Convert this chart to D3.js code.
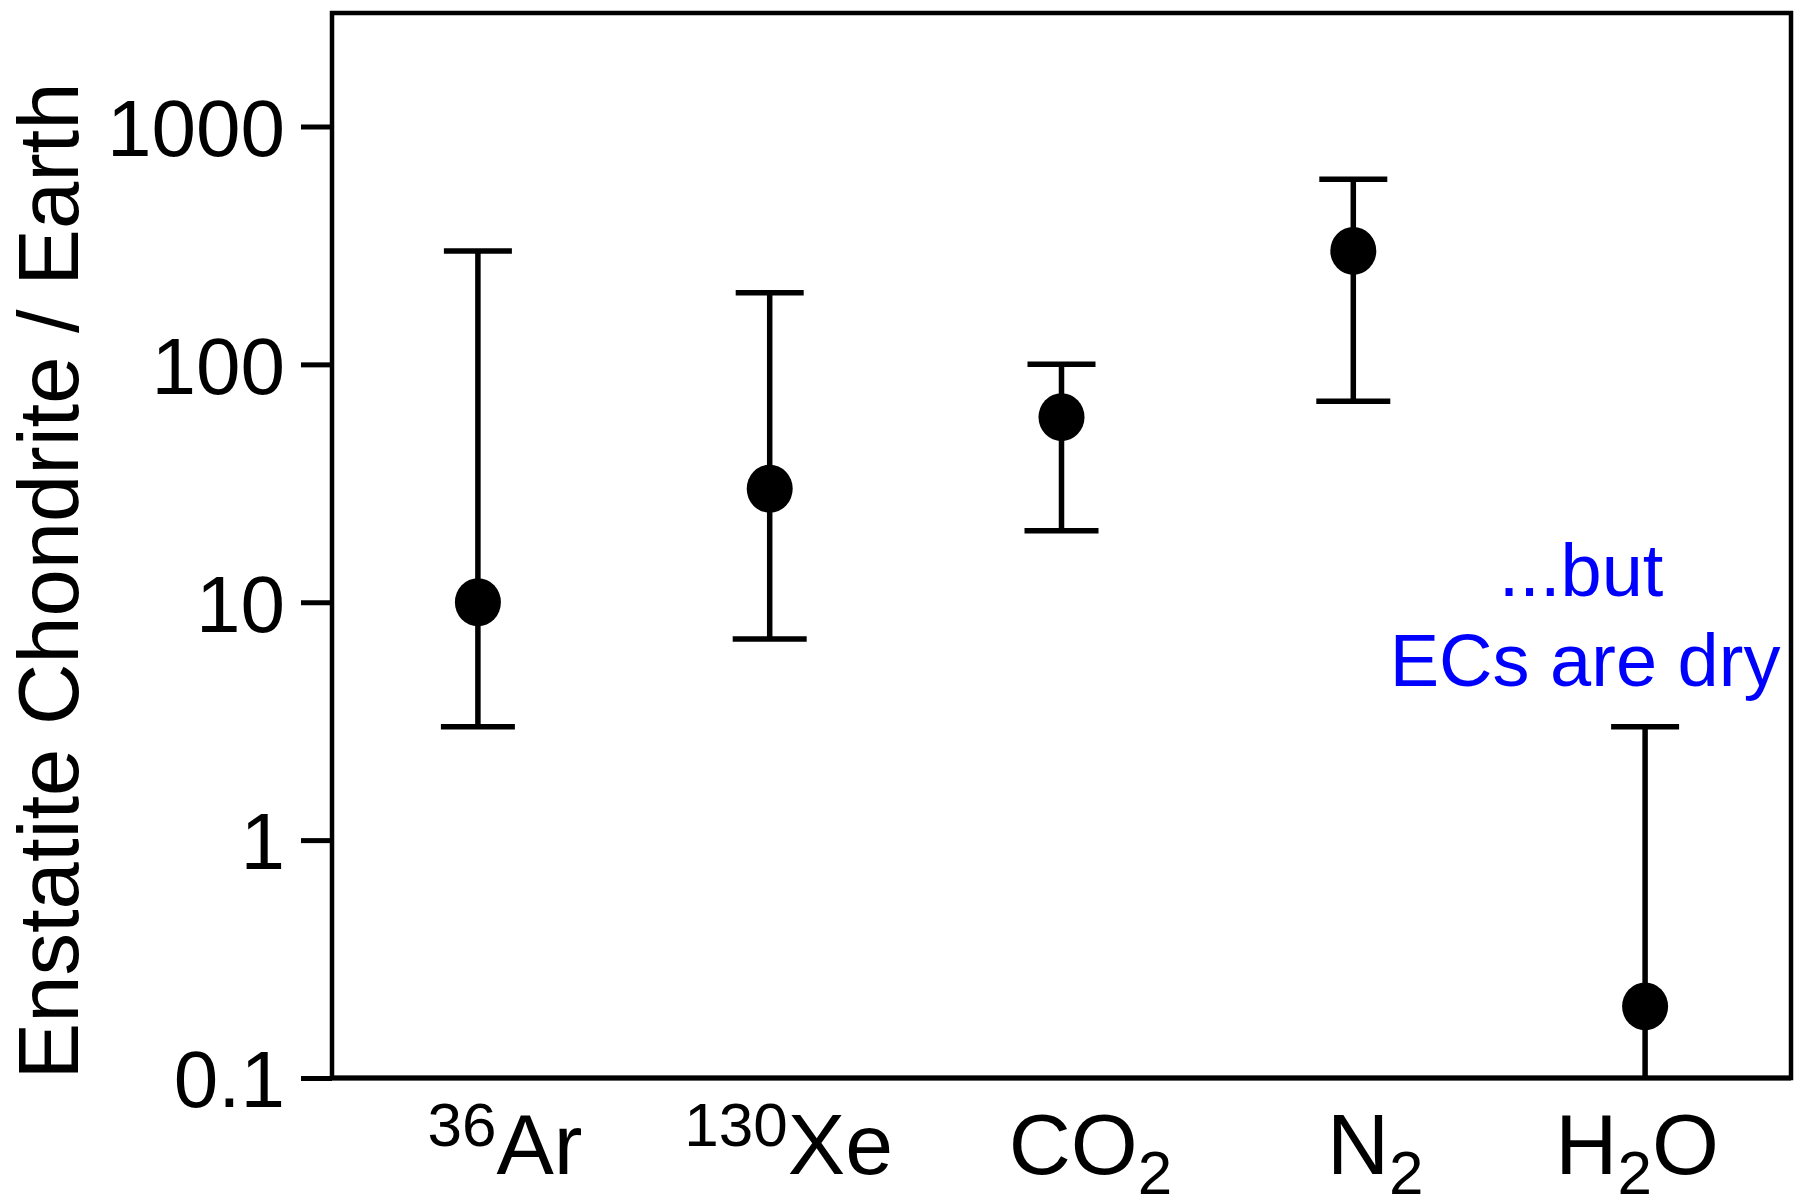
<!DOCTYPE html>
<html>
<head>
<meta charset="utf-8">
<script src="https://cdn.jsdelivr.net/npm/d3@7"></script>
<style>
  body { margin: 0; background: #fff; }
  svg { display: block; font-family: "Liberation Sans", Arial, Helvetica, sans-serif; }
</style>
</head>
<body>
<svg id="chart" width="1796" height="1201"></svg>
<script>
// Gas species along the x axis.
const CATEGORIES = ["Ar", "Xe", "CO2", "N2", "H2O"];

// LABEL_PARTS[i] is the label of category i as [text, kind] pieces.
const LABEL_PARTS = [
  [["36", "sup"], ["Ar", ""]],
  [["130", "sup"], ["Xe", ""]],
  [["CO", ""], ["2", "sub"]],
  [["N", ""], ["2", "sub"]],
  [["H", ""], ["2", "sub"], ["O", ""]],
];

// Enstatite chondrite / Earth ratio, with lower and upper bounds.
const VALUES = [10, 30, 60, 300, 0.2];
const LOWER = [3, 7, 20, 70, 0.1];
const UPPER = [300, 200, 100, 600, 3];

const Y_DOMAIN = [0.1, 3000];
const TICKS = [0.1, 1, 10, 100, 1000];
const TICK_LABELS = ["0.1", "1", "10", "100", "1000"];

const Y_TITLE = "Enstatite Chondrite / Earth";
const NOTE_LINES = ["...but", "ECs are dry"];

// the labels in the original sit a bit off the tick centres
const labelNudge = [27, 19, 29, 22, -8];

const margin = {left: 332, top: 13, right: 5, bottom: 123};
const width = 1796 - margin.left - margin.right;
const height = 1201 - margin.top - margin.bottom;

const svg = d3.select("#chart");
const chart = svg.append("g")
  .attr("transform", `translate(${margin.left}, ${margin.top})`);

const xScale = d3.scalePoint()
  .domain(CATEGORIES)
  .range([0, width])
  .padding(0.5);

const yScale = d3.scaleLog()
  .domain(Y_DOMAIN)
  .range([height, 0]);

// y axis, ticks pointing out
const yAxis = chart.append("g")
  .call(d3.axisLeft(yScale)
    .tickValues(TICKS)
    .tickFormat((d, i) => TICK_LABELS[i])
    .tickSize(31)
    .tickPadding(16));
yAxis.select(".domain").remove();
yAxis.selectAll(".tick line")
  .attr("stroke", "#000")
  .attr("stroke-width", 5);
yAxis.selectAll(".tick text")
  .attr("font-size", 80)
  .attr("font-family", "Liberation Sans, Arial, sans-serif")
  .attr("fill", "#000")
  .attr("dy", "0.36em");

// error bars, clipped to the plot box
chart.append("clipPath").attr("id", "plotclip")
  .append("rect").attr("width", width).attr("height", height);

const bars = chart.append("g").attr("clip-path", "url(#plotclip)");
const points = CATEGORIES.map((c, i) => ({c: c, v: VALUES[i], lo: LOWER[i], hi: UPPER[i]}));

bars.selectAll(".stem")
  .data(points)
  .enter().append("line")
  .attr("x1", d => xScale(d.c))
  .attr("x2", d => xScale(d.c))
  .attr("y1", d => yScale(d.lo))
  .attr("y2", d => yScale(d.hi))
  .attr("stroke", "#000")
  .attr("stroke-width", 5.5);

bars.selectAll(".capHi")
  .data(points)
  .enter().append("line")
  .attr("x1", d => xScale(d.c) - 34)
  .attr("x2", d => xScale(d.c) + 34)
  .attr("y1", d => yScale(d.hi))
  .attr("y2", d => yScale(d.hi))
  .attr("stroke", "#000")
  .attr("stroke-width", 5.5);

bars.selectAll(".capLo")
  .data(points.filter(d => d.lo > Y_DOMAIN[0]))
  .enter().append("line")
  .attr("x1", d => xScale(d.c) - 37)
  .attr("x2", d => xScale(d.c) + 37)
  .attr("y1", d => yScale(d.lo))
  .attr("y2", d => yScale(d.lo))
  .attr("stroke", "#000")
  .attr("stroke-width", 5.5);

chart.selectAll(".dot")
  .data(points)
  .enter().append("ellipse")
  .attr("cx", d => xScale(d.c))
  .attr("cy", d => yScale(d.v))
  .attr("rx", 23)
  .attr("ry", 24)
  .attr("fill", "#000");

// frame
chart.append("rect")
  .attr("width", width)
  .attr("height", height)
  .attr("fill", "none")
  .attr("stroke", "#000")
  .attr("stroke-width", 4.5);
chart.append("line")
  .attr("x1", 0).attr("x2", width)
  .attr("y1", height).attr("y2", height)
  .attr("stroke", "#000")
  .attr("stroke-width", 5);

// category labels with sub/superscripts
const labels = chart.selectAll(".xlabel")
  .data(CATEGORIES)
  .enter().append("text")
  .attr("x", (d, i) => xScale(d) + labelNudge[i])
  .attr("y", height + 96)
  .attr("text-anchor", "middle")
  .attr("font-size", 86)
  .attr("fill", "#000");

labels.each(function(d, i) {
  const t = d3.select(this);
  var prev = "";
  for (const [txt, kind] of LABEL_PARTS[i]) {
    var dy = 0;
    if (kind == "sup") dy = -28;
    if (kind == "sub") dy = 20;
    if (prev == "sup") dy += 28;
    if (prev == "sub") dy -= 20;
    t.append("tspan")
      .attr("dy", dy)
      .attr("font-size", kind == "" ? 86 : 62)
      .text(txt);
    prev = kind;
  }
});

// y title
svg.append("text")
  .attr("transform", "translate(78, 581) rotate(-90)")
  .attr("text-anchor", "middle")
  .attr("font-size", 85)
  .attr("fill", "#000")
  .text(Y_TITLE);

// note next to the water bar
const note = chart.append("text")
  .attr("text-anchor", "middle")
  .attr("font-size", 74)
  .attr("fill", "#0000ff");
note.selectAll("tspan")
  .data(NOTE_LINES)
  .enter().append("tspan")
  .attr("x", (d, i) => xScale("H2O") - 64 + i * 4)
  .attr("y", (d, i) => yScale(10) - 6 + i * 90)
  .text(d => d);
</script>
</body>
</html>
